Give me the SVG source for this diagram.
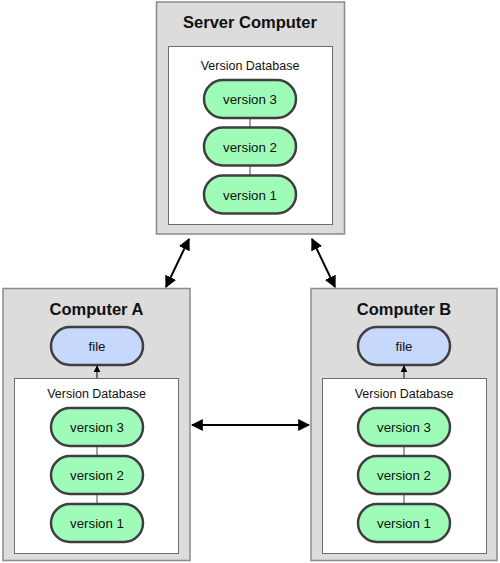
<svg xmlns="http://www.w3.org/2000/svg" width="500" height="563" viewBox="0 0 500 563">
<style>
.box{fill:#dcdcdc;stroke:#8a8a8a;stroke-width:1.5}
.db{fill:#fff;stroke:#6e6e6e;stroke-width:1}
.ver{fill:#9efcb8;stroke:#3f3f3f;stroke-width:2.5}
.file{fill:#c6d8fb;stroke:#3f3f3f;stroke-width:2.5}
.title{font-family:"Liberation Sans",Arial,sans-serif;font-weight:bold;font-size:16.5px;fill:#111;text-anchor:middle}
.lbl{font-family:"Liberation Sans",Arial,sans-serif;font-size:12.5px;fill:#111;text-anchor:middle}
.vt{font-family:"Liberation Sans",Arial,sans-serif;font-size:13.3px;fill:#111;text-anchor:middle}
.link{stroke:#444;stroke-width:1}
.arr{stroke:#000;stroke-width:2;fill:none}
</style>
<defs>
<marker id="ah" viewBox="0 0 10 10" refX="9" refY="5" markerWidth="6" markerHeight="6" orient="auto-start-reverse" markerUnits="strokeWidth">
<path d="M0,0 L10,5 L0,10 z" fill="#000"/>
</marker>
<marker id="ahs" viewBox="0 0 10 10" refX="9" refY="5" markerWidth="7" markerHeight="7" orient="auto" markerUnits="userSpaceOnUse">
<path d="M0,0 L10,5 L0,10 z" fill="#000"/>
</marker>
</defs>

<g id="server">
<rect class="box" x="156.5" y="2" width="188" height="232"/>
<text class="title" x="250" y="28">Server Computer</text>
<rect class="db" x="168.5" y="46.5" width="164" height="178"/>
<text class="lbl" x="250" y="70">Version Database</text>
<line class="link" x1="250" y1="118" x2="250" y2="127"/>
<line class="link" x1="250" y1="166" x2="250" y2="176"/>
<rect class="ver" x="204" y="80" width="92" height="38" rx="19"/>
<text class="vt" x="250" y="104">version 3</text>
<rect class="ver" x="204" y="127.5" width="92" height="38" rx="19"/>
<text class="vt" x="250" y="151.5">version 2</text>
<rect class="ver" x="204" y="175.5" width="92" height="38" rx="19"/>
<text class="vt" x="250" y="199.5">version 1</text>
</g>

<g id="computerA">
<rect class="box" x="3" y="288.5" width="187" height="272"/>
<text class="title" x="96.5" y="315">Computer A</text>
<rect class="file" x="51" y="327" width="92" height="38" rx="19"/>
<text class="vt" x="97" y="351">file</text>
<rect class="db" x="14.5" y="378.5" width="164" height="175"/>
<text class="lbl" x="96.5" y="398">Version Database</text>
<line class="link" x1="97" y1="447" x2="97" y2="456"/>
<line class="link" x1="97" y1="494" x2="97" y2="504"/>
<rect class="ver" x="51" y="408" width="92" height="38" rx="19"/>
<text class="vt" x="97" y="432">version 3</text>
<rect class="ver" x="51" y="456" width="92" height="38" rx="19"/>
<text class="vt" x="97" y="480">version 2</text>
<rect class="ver" x="51" y="504" width="92" height="38" rx="19"/>
<text class="vt" x="97" y="528">version 1</text>
</g>

<g id="computerB">
<rect class="box" x="311" y="288.5" width="186" height="272"/>
<text class="title" x="404" y="315">Computer B</text>
<rect class="file" x="358" y="327" width="92" height="38" rx="19"/>
<text class="vt" x="404" y="351">file</text>
<rect class="db" x="322.5" y="378.5" width="164" height="175"/>
<text class="lbl" x="404" y="398">Version Database</text>
<line class="link" x1="404" y1="447" x2="404" y2="456"/>
<line class="link" x1="404" y1="494" x2="404" y2="504"/>
<rect class="ver" x="358" y="408" width="92" height="38" rx="19"/>
<text class="vt" x="404" y="432">version 3</text>
<rect class="ver" x="358" y="456" width="92" height="38" rx="19"/>
<text class="vt" x="404" y="480">version 2</text>
<rect class="ver" x="358" y="504" width="92" height="38" rx="19"/>
<text class="vt" x="404" y="528">version 1</text>
</g>

<g id="connectors">
<line class="arr" x1="189" y1="239" x2="166" y2="287" marker-start="url(#ah)" marker-end="url(#ah)"/>
<line class="arr" x1="312" y1="239" x2="335" y2="287" marker-start="url(#ah)" marker-end="url(#ah)"/>
<line class="arr" x1="192" y1="425" x2="309" y2="425" marker-start="url(#ah)" marker-end="url(#ah)"/>
<line stroke="#000" stroke-width="1" x1="97" y1="378" x2="97" y2="366" marker-end="url(#ahs)"/>
<line stroke="#000" stroke-width="1" x1="404" y1="378" x2="404" y2="366" marker-end="url(#ahs)"/>
</g>
</svg>
